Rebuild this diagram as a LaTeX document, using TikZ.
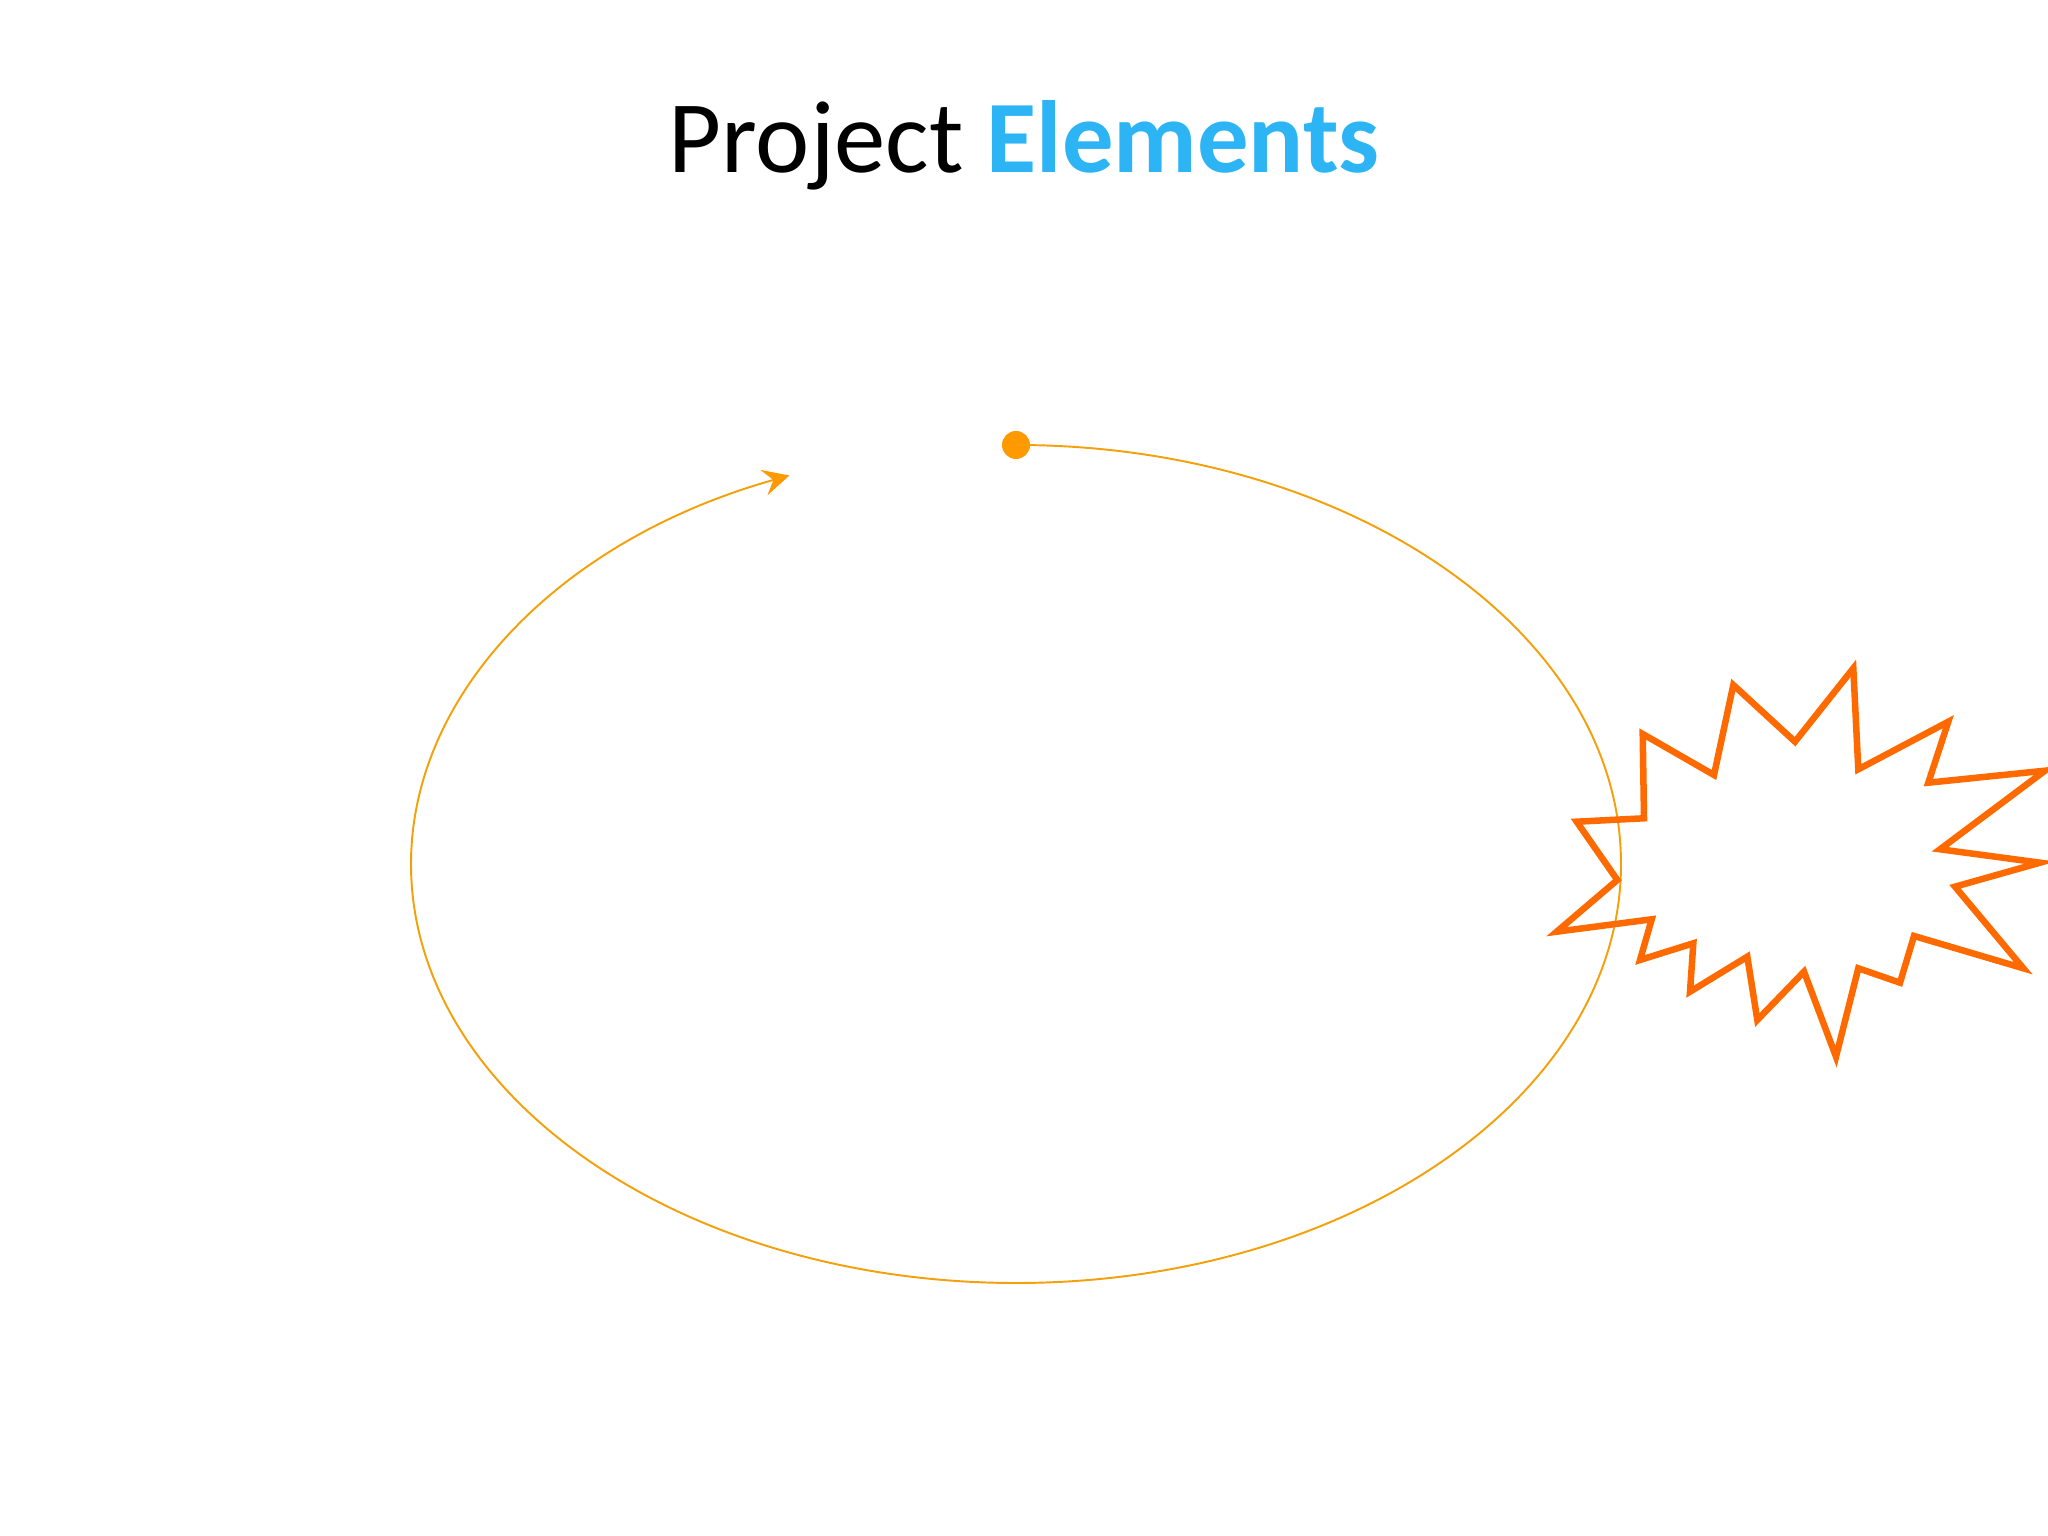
\documentclass[tikz,border=0pt]{standalone}
\usepackage{fontspec}
\setmainfont{Carlito}
\usetikzlibrary{arrows.meta}
\definecolor{ringcol}{RGB}{243,160,10}
\definecolor{dotcol}{RGB}{255,153,0}
\definecolor{burstcol}{RGB}{255,106,0}
\definecolor{titleblue}{RGB}{44,180,245}
\tikzset{
  ring/.style={draw=ringcol, line width=0.55pt},
  burst/.style={draw=burstcol, line width=1.85pt, line join=miter, miter limit=20},
}
\begin{document}
\begin{tikzpicture}[x=0.01cm,y=0.01cm]
\useasboundingbox (0,0) rectangle (2048,1536);
\node[anchor=base west, inner sep=0pt, font=\fontsize{29.2}{35}\selectfont] (title) at (668,1363.6) {Project \textbf{\color{titleblue}Elements}};
\node[circle, fill=dotcol, inner sep=0pt, minimum size=0.28cm] (dot) at (1016,1091) {};
\coordinate (c) at (1016,671);
\draw[ring, -{Stealth[length=7.5pt, width=7.5pt, inset=2.8pt, color=dotcol, fill=dotcol]}] (dot.center) arc[start angle=90, end angle=-248, x radius=605, y radius=419];
\draw[burst] (1576.7,714.3) -- (1617.3,656) -- (1556.7,604.3) -- (1651.7,616.7) -- (1640,576) -- (1693.3,592.7) -- (1690,544.3) -- (1747.3,579.3) -- (1757.3,516) -- (1804,564.3) -- (1836,479.3) -- (1858.3,567.7) -- (1900,553.3) -- (1914,600) -- (2023.3,567.7) -- (1955,649.3) -- (2040,673.3) -- (1940,686.7) -- (2045,765.3) -- (1928.3,753.3) -- (1948.3,814.3) -- (1858.3,766.7) -- (1853.3,867.7) -- (1795,794.3) -- (1733.3,851) -- (1714,761) -- (1642.7,802) -- (1644,717.7) -- cycle;
\end{tikzpicture}
\end{document}
